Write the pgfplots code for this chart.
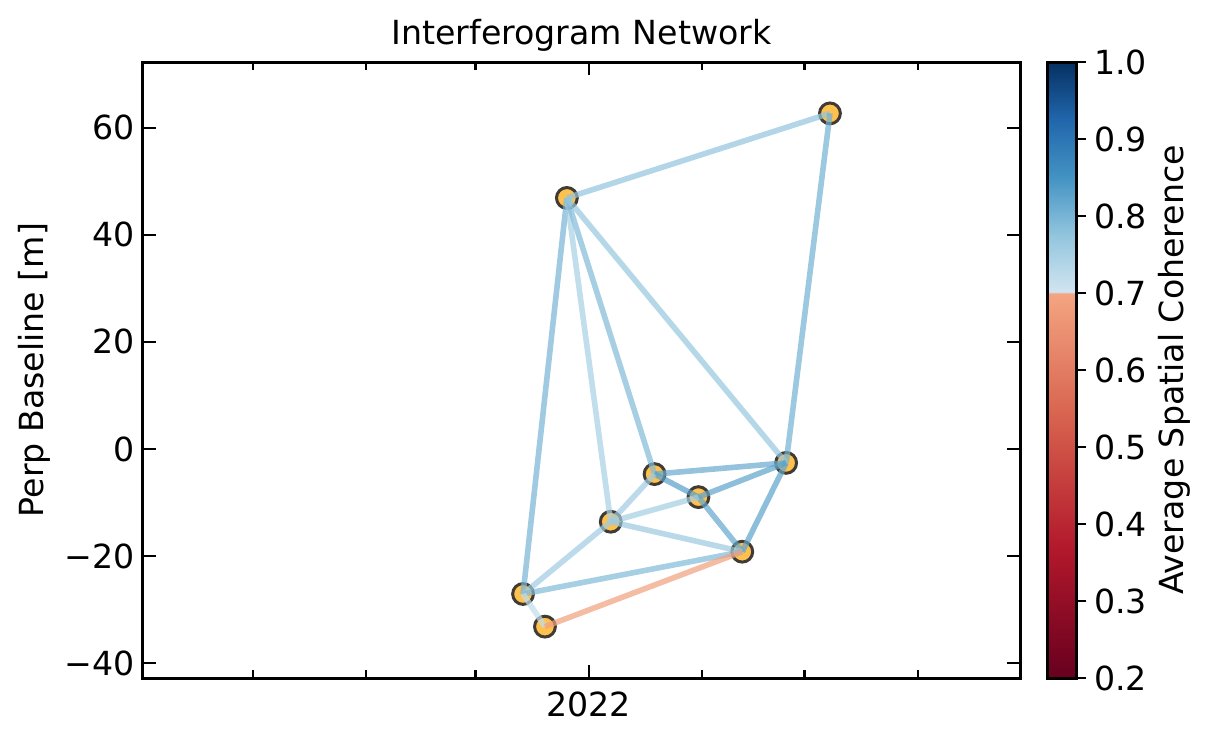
\documentclass[border=0pt]{standalone}
\usepackage{fontspec}
\setmainfont{DejaVu Sans}
\usepackage{pgfplots}
\pgfplotsset{compat=1.18}
\usetikzlibrary{calc}
\definecolor{mk}{HTML}{FFC14D}
\definecolor{mkedge}{HTML}{403B35}
\newcommand{\fs}{\fontsize{16.6}{19}\selectfont}
\begin{document}
\begin{tikzpicture}
\begin{axis}[
  name=main,
  scale only axis, width=438.5pt, height=308pt,
  clip marker paths=true,
  xmin=-122, xmax=118, ymin=-42.8, ymax=72.3,
  xtick={0}, xticklabels={2022},
  minor xtick={-92,-61,-31,31,59,90},
  ytick={-40,-20,0,20,40,60},
  yticklabels={−40,−20,0,20,40,60},
  xtick pos=both, ytick pos=both,
  xticklabel pos=lower, yticklabel pos=left,
  tick align=inside,
  major tick length=6.5pt, minor tick length=4pt,
  every tick/.style={black, line width=1.1pt},
  line width=1.5pt,
  axis line style={line width=1.5pt},
  tick label style={font=\fs},
  xticklabel style={yshift=-3pt},
  label style={font=\fs},
  title style={font=\fs, yshift=-5pt},
  title={Interferogram Network},
  ylabel={Perp Baseline [m]},
  /pgf/number format/assume math mode=true,
  colormap={coh}{rgb255(0)=(103,0,31) rgb255(167)=(178,24,43) rgb255(333)=(214,96,77) rgb255(500)=(244,165,130) rgb255(501)=(209,229,240) rgb255(575)=(146,197,222) rgb255(650)=(67,147,195) rgb255(725)=(33,102,172) rgb255(800)=(5,48,97)},
  point meta min=0.2, point meta max=1.0,
  colorbar,
  colorbar style={
    at={(parent axis.north east)}, anchor=north west, xshift=5pt,
    width=14.5pt,
    line width=1.5pt,
    ytick={0.2,0.3,0.4,0.5,0.6,0.7,0.8,0.9,1.0},
    yticklabels={0.2,0.3,0.4,0.5,0.6,0.7,0.8,0.9,1.0},
    ytick pos=right, yticklabel pos=right,
    tick align=outside, major tick length=5pt,
    every tick/.style={black, line width=1.1pt},
    axis line style={line width=1.5pt},
    tick label style={font=\fs},
    ylabel={Average Spatial Coherence},
    ylabel style={font=\fs, yshift=2pt},
  },
]
% acquisitions (days since 2022-01-01, perp baseline)
\addplot[only marks, mark=*, mark size=5.2pt, mark options={fill=mk, draw=mkedge, line width=1.5pt}] coordinates {
  (-6,46.9) (66,62.7) (18,-4.7) (30,-9.0) (54,-2.6) (6,-13.6) (42,-19.2) (-18,-27.1) (-12,-33.2)
};
% interferograms coloured by coherence
\addplot[mesh, shader=flat, line width=2.8pt, opacity=0.7, point meta=explicit] coordinates {(-6,46.9) [0.775] (66,62.7) [0.775]};
\addplot[mesh, shader=flat, line width=2.8pt, opacity=0.7, point meta=explicit] coordinates {(66,62.7) [0.805] (54,-2.6) [0.805]};
\addplot[mesh, shader=flat, line width=2.8pt, opacity=0.7, point meta=explicit] coordinates {(-6,46.9) [0.80] (-18,-27.1) [0.80]};
\addplot[mesh, shader=flat, line width=2.8pt, opacity=0.7, point meta=explicit] coordinates {(-6,46.9) [0.75] (6,-13.6) [0.75]};
\addplot[mesh, shader=flat, line width=2.8pt, opacity=0.7, point meta=explicit] coordinates {(-6,46.9) [0.79] (18,-4.7) [0.79]};
\addplot[mesh, shader=flat, line width=2.8pt, opacity=0.7, point meta=explicit] coordinates {(-6,46.9) [0.77] (54,-2.6) [0.77]};
\addplot[mesh, shader=flat, line width=2.8pt, opacity=0.7, point meta=explicit] coordinates {(18,-4.7) [0.815] (54,-2.6) [0.815]};
\addplot[mesh, shader=flat, line width=2.8pt, opacity=0.7, point meta=explicit] coordinates {(18,-4.7) [0.83] (30,-9.0) [0.83]};
\addplot[mesh, shader=flat, line width=2.8pt, opacity=0.7, point meta=explicit] coordinates {(30,-9.0) [0.825] (54,-2.6) [0.825]};
\addplot[mesh, shader=flat, line width=2.8pt, opacity=0.7, point meta=explicit] coordinates {(30,-9.0) [0.82] (42,-19.2) [0.82]};
\addplot[mesh, shader=flat, line width=2.8pt, opacity=0.7, point meta=explicit] coordinates {(54,-2.6) [0.825] (42,-19.2) [0.825]};
\addplot[mesh, shader=flat, line width=2.8pt, opacity=0.7, point meta=explicit] coordinates {(6,-13.6) [0.76] (18,-4.7) [0.76]};
\addplot[mesh, shader=flat, line width=2.8pt, opacity=0.7, point meta=explicit] coordinates {(6,-13.6) [0.755] (30,-9.0) [0.755]};
\addplot[mesh, shader=flat, line width=2.8pt, opacity=0.7, point meta=explicit] coordinates {(6,-13.6) [0.765] (42,-19.2) [0.765]};
\addplot[mesh, shader=flat, line width=2.8pt, opacity=0.7, point meta=explicit] coordinates {(6,-13.6) [0.76] (-18,-27.1) [0.76]};
\addplot[mesh, shader=flat, line width=2.8pt, opacity=0.7, point meta=explicit] coordinates {(-18,-27.1) [0.79] (42,-19.2) [0.79]};
\addplot[mesh, shader=flat, line width=2.8pt, opacity=0.7, point meta=explicit] coordinates {(-18,-27.1) [0.72] (-12,-33.2) [0.72]};
\addplot[mesh, shader=flat, line width=2.8pt, opacity=0.7, point meta=explicit] coordinates {(-12,-33.2) [0.685] (42,-19.2) [0.685]};
\end{axis}
\path ($(main.south west)+(-71.5pt,-31.5pt)$) rectangle ++(605pt,370.5pt);
\end{tikzpicture}
\end{document}
